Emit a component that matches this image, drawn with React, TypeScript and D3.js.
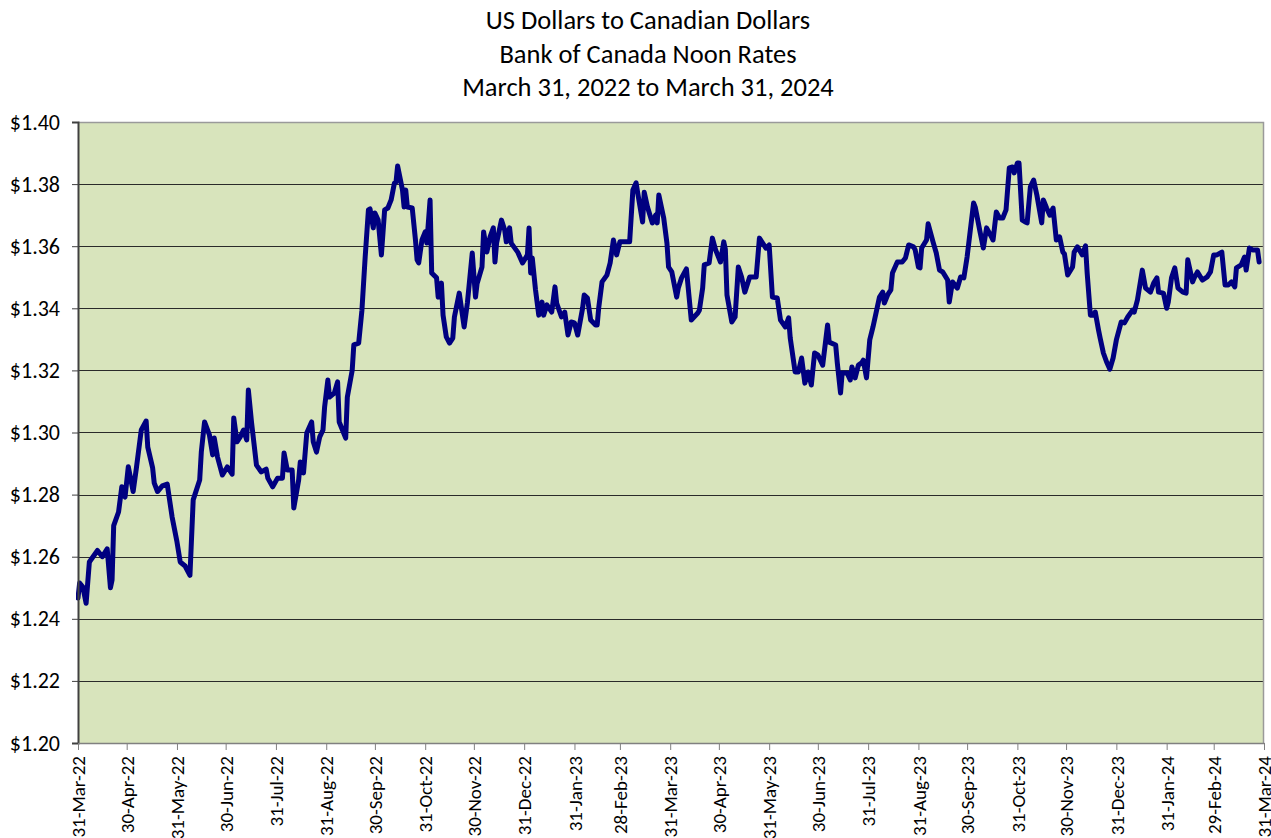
import React, { useEffect, useRef } from 'react';
import * as d3 from 'd3';

// days after 31-Mar-2022
const startDate = new Date(2022, 2, 31);
const endDate = new Date(2024, 2, 31);

const dayOffsets = [
  0, 1, 3, 5, 7, 12, 15, 18, 20, 21, 22, 25, 27, 29, 31, 34, 36, 39, 42, 43,
  46, 47, 49, 52, 55, 58, 61, 63, 66, 69, 71, 75, 76, 78, 81, 83, 84, 86, 89, 92,
  95, 96, 98, 100, 102, 104, 105, 107, 110, 113, 116, 117, 120, 123, 126, 127, 129, 132, 133, 136,
  137, 139, 141, 144, 145, 147, 149, 151, 152, 154, 155, 158, 160, 161, 165, 166, 169, 170, 173, 175,
  177, 179, 180, 182, 183, 185, 187, 189, 191, 193, 195, 196, 197, 200, 201, 202, 203, 206, 208, 209,
  210, 212, 214, 215, 217, 218, 221, 222, 224, 225, 227, 229, 231, 232, 235, 238, 240, 243, 245, 246,
  249, 250, 252, 254, 256, 257, 258, 261, 263, 264, 266, 267, 271, 274, 277, 278, 279, 280, 282, 284,
  286, 287, 289, 292, 294, 295, 298, 300, 302, 304, 306, 308, 311, 312, 314, 316, 319, 320, 321, 323,
  326, 328, 330, 332, 334, 337, 340, 342, 344, 345, 348, 349, 351, 354, 356, 357, 358, 361, 363, 364,
  366, 369, 370, 372, 375, 378, 382, 383, 385, 386, 389, 391, 393, 396, 398, 399, 400, 403, 405, 407,
  409, 411, 414, 418, 420, 422, 424, 426, 428, 431, 433, 436, 438, 439, 442, 444, 446, 448, 450, 452,
  454, 456, 459, 462, 463, 467, 468, 470, 471, 474, 476, 477, 479, 481, 483, 484, 486, 488, 490, 492,
  494, 496, 497, 499, 501, 502, 505, 508, 510, 512, 515, 516, 518, 519, 520, 523, 524, 527, 529, 531,
  533, 536, 537, 539, 542, 544, 546, 548, 550, 552, 553, 556, 558, 560, 563, 564, 566, 568, 570, 572,
  574, 576, 577, 579, 580, 582, 584, 585, 587, 589, 591, 594, 595, 597, 599, 601, 603, 605, 607, 608,
  610, 613, 614, 616, 619, 621, 622, 624, 626, 627, 629, 630, 632, 634, 636, 638, 640, 643, 645, 647,
  650, 651, 653, 656, 658, 661, 663, 665, 666, 669, 671, 672, 674, 676, 678, 681, 683, 684, 687, 688,
  690, 693, 696, 698, 700, 702, 705, 707, 709, 711, 713, 714, 717, 719, 720, 722, 724, 727, 728
];

const rates = [
  1.2467, 1.2515, 1.2502, 1.2450, 1.2583, 1.2620, 1.2600, 1.2625, 1.2500, 1.2525, 1.2700, 1.2744, 1.2825, 1.2792, 1.2890, 1.2810, 1.2886, 1.3008, 1.3037, 1.2953,
  1.2886, 1.2837, 1.2810, 1.2828, 1.2834, 1.2728, 1.2648, 1.2583, 1.2570, 1.2540, 1.2783, 1.2847, 1.2937, 1.3034, 1.2992, 1.2928, 1.2982, 1.2921, 1.2863, 1.2889,
  1.2866, 1.3047, 1.2970, 1.2986, 1.3008, 1.2976, 1.3137, 1.3031, 1.2895, 1.2873, 1.2882, 1.2853, 1.2825, 1.2853, 1.2853, 1.2934, 1.2879, 1.2879, 1.2757, 1.2847,
  1.2905, 1.2870, 1.2998, 1.3034, 1.2970, 1.2937, 1.2986, 1.3008, 1.3082, 1.3169, 1.3114, 1.3127, 1.3163, 1.3034, 1.2982, 1.3114, 1.3200, 1.3282, 1.3288, 1.3394,
  1.3565, 1.3717, 1.3720, 1.3659, 1.3707, 1.3684, 1.3572, 1.3717, 1.3723, 1.3749, 1.3803, 1.3806, 1.3858, 1.3781, 1.3726, 1.3781, 1.3726, 1.3723, 1.3620, 1.3556,
  1.3546, 1.3620, 1.3646, 1.3610, 1.3749, 1.3514, 1.3498, 1.3436, 1.3481, 1.3378, 1.3308, 1.3288, 1.3304, 1.3372, 1.3449, 1.3340, 1.3417, 1.3578, 1.3436, 1.3480,
  1.3533, 1.3646, 1.3581, 1.3630, 1.3659, 1.3549, 1.3610, 1.3684, 1.3652, 1.3614, 1.3659, 1.3610, 1.3581, 1.3546, 1.3572, 1.3659, 1.3514, 1.3562, 1.3459, 1.3378,
  1.3420, 1.3378, 1.3411, 1.3388, 1.3469, 1.3417, 1.3372, 1.3388, 1.3314, 1.3356, 1.3353, 1.3314, 1.3400, 1.3443, 1.3433, 1.3362, 1.3346, 1.3346, 1.3404, 1.3485,
  1.3507, 1.3546, 1.3620, 1.3572, 1.3614, 1.3614, 1.3614, 1.3781, 1.3804, 1.3771, 1.3678, 1.3774, 1.3726, 1.3675, 1.3700, 1.3675, 1.3765, 1.3691, 1.3610, 1.3533,
  1.3517, 1.3436, 1.3465, 1.3498, 1.3527, 1.3362, 1.3385, 1.3394, 1.3465, 1.3540, 1.3546, 1.3626, 1.3588, 1.3549, 1.3614, 1.3590, 1.3443, 1.3356, 1.3372, 1.3533,
  1.3501, 1.3452, 1.3501, 1.3501, 1.3626, 1.3610, 1.3594, 1.3604, 1.3436, 1.3433, 1.3362, 1.3340, 1.3369, 1.3304, 1.3195, 1.3195, 1.3240, 1.3159, 1.3195, 1.3153,
  1.3256, 1.3250, 1.3217, 1.3346, 1.3291, 1.3282, 1.3224, 1.3127, 1.3192, 1.3192, 1.3169, 1.3211, 1.3176, 1.3217, 1.3224, 1.3233, 1.3176, 1.3298, 1.3340, 1.3388,
  1.3436, 1.3452, 1.3417, 1.3443, 1.3459, 1.3514, 1.3549, 1.3549, 1.3562, 1.3604, 1.3598, 1.3588, 1.3533, 1.3530, 1.3594, 1.3620, 1.3672, 1.3614, 1.3578, 1.3523,
  1.3517, 1.3491, 1.3420, 1.3485, 1.3465, 1.3501, 1.3498, 1.3565, 1.3652, 1.3739, 1.3726, 1.3646, 1.3594, 1.3659, 1.3630, 1.3620, 1.3710, 1.3691, 1.3691, 1.3717,
  1.3852, 1.3855, 1.3836, 1.3868, 1.3868, 1.3684, 1.3678, 1.3675, 1.3791, 1.3813, 1.3765, 1.3675, 1.3749, 1.3723, 1.3700, 1.3723, 1.3620, 1.3630, 1.3581, 1.3575,
  1.3507, 1.3533, 1.3581, 1.3598, 1.3572, 1.3601, 1.3514, 1.3378, 1.3378, 1.3388, 1.3330, 1.3304, 1.3256, 1.3227, 1.3204, 1.3240, 1.3298, 1.3356, 1.3353, 1.3372,
  1.3394, 1.3388, 1.3427, 1.3523, 1.3465, 1.3452, 1.3481, 1.3498, 1.3452, 1.3449, 1.3400, 1.3420, 1.3498, 1.3530, 1.3465, 1.3452, 1.3449, 1.3556, 1.3485, 1.3498,
  1.3517, 1.3491, 1.3501, 1.3517, 1.3572, 1.3572, 1.3581, 1.3475, 1.3475, 1.3485, 1.3469, 1.3530, 1.3540, 1.3565, 1.3523, 1.3594, 1.3588, 1.3588, 1.3549
];

const yTicks = [1.20, 1.22, 1.24, 1.26, 1.28, 1.30, 1.32, 1.34, 1.36, 1.38, 1.40];
const titleLines = [
  'US Dollars to Canadian Dollars',
  'Bank of Canada Noon Rates',
  'March 31, 2022 to March 31, 2024'
];

const FONT = 'Carlito, Calibri, Lato, "Open Sans", sans-serif';

const App = () => {
  const svgRef = useRef(null);

  useEffect(() => {
    document.body.style.margin = '0';
    const svg = d3.select(svgRef.current);
    svg.selectAll('*').remove();

    const margin = { top: 122, right: 7, bottom: 95, left: 78 };
    const width = 1271;
    const height = 838;
    const innerWidth = width - margin.left - margin.right;
    const innerHeight = height - margin.top - margin.bottom;

    const data = dayOffsets.map((d, i) => ({
      date: d3.timeDay.offset(startDate, d),
      value: rates[i]
    }));

    const x = d3.scaleTime().domain([startDate, endDate]).range([0, innerWidth]);
    const y = d3.scaleLinear().domain([1.2, 1.4]).range([innerHeight, 0]);

    // month-end ticks
    const monthEnds = d3.timeMonth
      .range(new Date(2022, 3, 1), new Date(2024, 3, 2))
      .map(d => d3.timeDay.offset(d, -1));

    // title
    svg.append('g')
      .selectAll('text')
      .data(titleLines)
      .enter()
      .append('text')
      .attr('x', 648)
      .attr('y', (d, i) => 29 + i * 33.5)
      .attr('text-anchor', 'middle')
      .style('font-family', FONT)
      .style('font-size', '26.5px')
      .style('fill', '#000')
      .text(d => d);

    const g = svg.append('g')
      .attr('transform', `translate(${margin.left},${margin.top})`);

    g.append('rect')
      .attr('width', innerWidth)
      .attr('height', innerHeight)
      .attr('fill', '#D8E4BC');

    // grid lines
    g.append('g')
      .selectAll('line')
      .data(yTicks.slice(1, -1))
      .enter()
      .append('line')
      .attr('x1', 0)
      .attr('x2', innerWidth)
      .attr('y1', d => Math.round(y(d)) + 0.5)
      .attr('y2', d => Math.round(y(d)) + 0.5)
      .attr('stroke', '#2a2a2a')
      .attr('stroke-width', 1.2);

    // plot border (top + right)
    g.append('path')
      .attr('d', `M0,0.5H${innerWidth - 0.5}V${innerHeight}`)
      .attr('fill', 'none')
      .attr('stroke', '#9a9a9a')
      .attr('stroke-width', 1.5);

    svg.append('clipPath')
      .attr('id', 'plot-clip')
      .append('rect')
      .attr('x', -2)
      .attr('y', -4)
      .attr('width', innerWidth + 2)
      .attr('height', innerHeight + 4);

    const line = d3.line()
      .x(d => x(d.date))
      .y(d => y(d.value));

    g.append('path')
      .datum(data)
      .attr('clip-path', 'url(#plot-clip)')
      .attr('d', line)
      .attr('fill', 'none')
      .attr('stroke', '#000080')
      .attr('stroke-width', 5)
      .attr('stroke-linejoin', 'round')
      .attr('stroke-linecap', 'round');

    // y axis
    const yAxis = d3.axisLeft(y)
      .tickValues(yTicks)
      .tickSize(6)
      .tickPadding(12)
      .tickFormat(d => '$' + d3.format('.2f')(d));

    const yg = g.append('g').call(yAxis);
    yg.select('.domain').attr('stroke', '#404040').attr('stroke-width', 2);
    yg.selectAll('.tick line').attr('stroke', '#404040');
    yg.selectAll('.tick text')
      .style('font-family', FONT)
      .style('font-size', '22px')
      .style('fill', '#000');

    // x axis
    const xAxis = d3.axisBottom(x)
      .tickValues(monthEnds)
      .tickSize(7)
      .tickSizeOuter(0)
      .tickFormat(d3.timeFormat('%d-%b-%y'));

    const xg = g.append('g')
      .attr('transform', `translate(0,${innerHeight})`)
      .call(xAxis);
    xg.select('.domain').attr('stroke', '#808080').attr('stroke-width', 1.5);
    xg.selectAll('.tick line').attr('stroke', '#808080');
    xg.selectAll('.tick text')
      .attr('transform', 'rotate(-90)')
      .attr('x', -13)
      .attr('y', 0)
      .attr('dy', '0.35em')
      .attr('text-anchor', 'end')
      .style('font-family', FONT)
      .style('font-size', '19px')
      .style('fill', '#000');
  }, []);

  return (
    <svg ref={svgRef} width={1271} height={838} style={{ display: 'block' }}></svg>
  );
};

export default App;
